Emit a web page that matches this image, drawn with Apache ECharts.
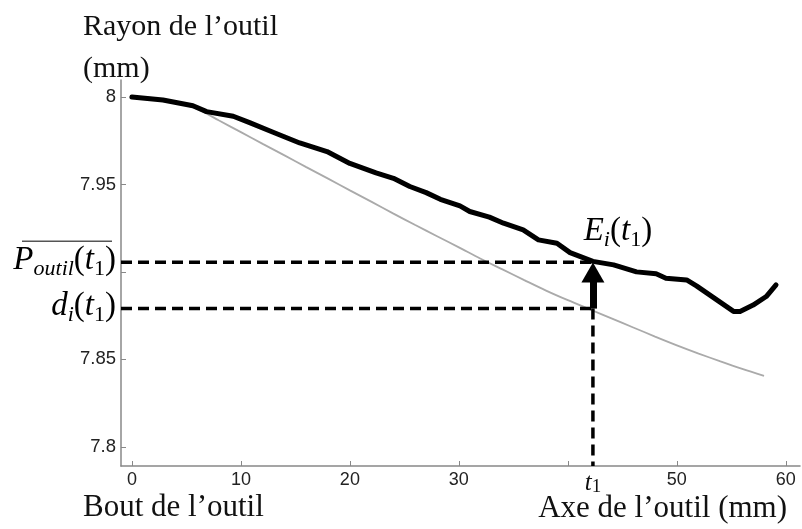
<!DOCTYPE html>
<html>
<head>
<meta charset="utf-8">
<script src="https://cdn.jsdelivr.net/npm/echarts@6/dist/echarts.min.js"></script>
<style>html,body{margin:0;padding:0;background:#fff}#c{width:802px;height:529px}</style>
</head>
<body>
<div id="c"></div>
<script>
// Measured tool profile (black, thick)
const tMeasured = [0, 2.85, 5.6, 6.85, 9.3, 10.8, 12.9, 15.4, 17.9, 20, 22.4, 24.0, 25.5, 27.0, 28.3, 30.1, 31.0, 32.8, 34.1, 35.9, 37.3, 39.0, 40.2, 42.3, 44.2, 46.3, 48.1, 49.0, 50.9, 51.8, 55.2, 55.8, 57.0, 58.2, 59.1];
const rMeasured = [8.0, 7.9983, 7.995, 7.9916, 7.989, 7.9853, 7.980, 7.9737, 7.9688, 7.962, 7.9566, 7.9535, 7.9488, 7.9453, 7.9415, 7.9377, 7.9345, 7.9313, 7.9278, 7.924, 7.9183, 7.9164, 7.911, 7.906, 7.904, 7.900, 7.8989, 7.8964, 7.8954, 7.892, 7.8774, 7.8774, 7.881, 7.8859, 7.8926];
// Reference profile (grey, thin)
const tRef = [0, 2, 4, 6, 8, 10, 12, 14, 16, 18, 20, 22, 24, 26, 28, 30, 32, 34, 36, 38, 40, 42, 44, 46, 48, 50, 52, 54, 56, 58];
const rRef = [8.0, 7.9993, 7.9968, 7.9932, 7.9865, 7.9799, 7.9732, 7.9666, 7.9599, 7.9533, 7.9466, 7.9400, 7.9333, 7.9268, 7.9204, 7.9140, 7.9075, 7.9014, 7.8953, 7.8893, 7.8838, 7.8786, 7.8734, 7.8682, 7.8630, 7.8580, 7.8533, 7.8488, 7.8445, 7.8405];
// Annotation values
const t1 = 42.3;
const P_t1 = 7.9055;
const d_t1 = 7.879;
// Axis ticks / labels
const xTicks = [0, 10, 20, 30, 40, 50, 60];
const xLabels = [0, 10, 20, 30, t1, 50, 60];
const yTicks = [7.8, 7.85, 7.9, 7.95, 8];
const yLabels = [7.8, 7.85, 7.95, 8];

const xMin = -1, xMax = 61.3, yMin = 7.789, yMax = 8.0097;
const serif = '"Liberation Serif", "DejaVu Serif", serif';
const sans = '"Liberation Sans", Arial, sans-serif';

const chart = echarts.init(document.getElementById('c'), null, {renderer: 'canvas'});
const zip = (a, b) => a.map((v, i) => [v, b[i]]);

const option = {
  animation: false,
  backgroundColor: '#fff',
  grid: {left: 121, top: 80, right: 2, bottom: 63, containLabel: false},
  xAxis: {
    type: 'value', min: xMin, max: xMax,
    splitLine: {show: false},
    axisLine: {onZero: false, lineStyle: {color: '#888', width: 1.5}},
    axisTick: {customValues: xTicks, inside: true, length: 5, lineStyle: {color: '#888'}},
    axisLabel: {
      customValues: xLabels, margin: 5, color: '#222', fontFamily: sans, fontSize: 18,
      formatter: v => (Math.abs(v - t1) < 1e-6 ? '{t|t}{s|1}' : String(v)),
      rich: {
        t: {fontFamily: serif, fontStyle: 'italic', fontSize: 25, color: '#111', lineHeight: 26, verticalAlign: 'top'},
        s: {fontFamily: serif, fontSize: 19, color: '#111', lineHeight: 20, verticalAlign: 'bottom', padding: [16, 0, 0, 0]}
      }
    }
  },
  yAxis: {
    type: 'value', min: yMin, max: yMax,
    splitLine: {show: false},
    axisLine: {onZero: false, lineStyle: {color: '#888', width: 1.5}},
    axisTick: {customValues: yTicks, inside: true, length: 5, lineStyle: {color: '#888'}},
    axisLabel: {customValues: yLabels, margin: 5, color: '#222', fontFamily: sans, fontSize: 18.5,
      formatter: v => String(+v.toFixed(2))}
  },
  series: [
    {type: 'line', data: zip(tRef, rRef), smooth: 0.3, symbol: 'none',
     lineStyle: {color: '#aaa', width: 1.8}, z: 2},
    {type: 'line', data: zip(tMeasured, rMeasured), smooth: false, symbol: 'none',
     lineStyle: {color: '#000', width: 5, join: 'round', cap: 'round'}, z: 3},
    {type: 'line', data: [[xMin, P_t1], [t1, P_t1]], symbol: 'none',
     lineStyle: {color: '#000', width: 3.5, type: [11, 6]}, z: 4},
    {type: 'line', data: [[xMin, d_t1], [t1, d_t1]], symbol: 'none',
     lineStyle: {color: '#000', width: 3.5, type: [11, 6]}, z: 4},
    {type: 'line', data: [[t1, d_t1], [t1, yMin]], symbol: 'none',
     lineStyle: {color: '#000', width: 3.5, type: [11, 6]}, z: 4,
     markLine: {
       silent: true, symbol: ['none', 'triangle'], symbolSize: [23, 20],
       label: {show: false},
       lineStyle: {color: '#000', width: 7, type: 'solid', cap: 'butt'},
       data: [[{coord: [t1, d_t1]}, {coord: [t1, P_t1 - 0.0058]}]]
     }}
  ]
};
chart.setOption(option);

const pxP = chart.convertToPixel({gridIndex: 0}, [t1, P_t1]);
const pxD = chart.convertToPixel({gridIndex: 0}, [t1, d_t1]);

const mathRich = {
  i: {fontFamily: serif, fontStyle: 'italic', fontSize: 33, color: '#111', lineHeight: 40, verticalAlign: 'middle'},
  n: {fontFamily: serif, fontSize: 33, color: '#111', lineHeight: 40, verticalAlign: 'middle'},
  si: {fontFamily: serif, fontStyle: 'italic', fontSize: 22, color: '#111', lineHeight: 19, verticalAlign: 'bottom'},
  sn: {fontFamily: serif, fontSize: 22, color: '#111', lineHeight: 19, verticalAlign: 'bottom'}
};

chart.setOption({
  graphic: [
    {type: 'text', left: 83, top: 6, style: {text: 'Rayon de l’outil\n(mm)', font: '30px ' + serif, fill: '#111', lineHeight: 42}},
    {type: 'text', left: 83, top: 492, style: {text: 'Bout de l’outil', font: '31px ' + serif, fill: '#111'}},
    {type: 'text', right: 15, top: 493, style: {text: 'Axe de l’outil (mm)', font: '31px ' + serif, fill: '#111'}},
    {type: 'text', x: 116, y: pxP[1] - 2, style: {text: '{i|P}{si|outil}{n|(}{i|t}{sn|1}{n|)}', rich: mathRich, align: 'right', verticalAlign: 'middle'}},
    {type: 'line', shape: {x1: 22, y1: pxP[1] - 21, x2: 112, y2: pxP[1] - 21}, style: {stroke: '#555', lineWidth: 1.5}},
    {type: 'text', x: 116, y: pxD[1] - 2, style: {text: '{i|d}{si|i}{n|(}{i|t}{sn|1}{n|)}', rich: mathRich, align: 'right', verticalAlign: 'middle'}},
    {type: 'text', x: pxP[0] + 25, y: pxP[1] - 31, style: {text: '{i|E}{si|i}{n|(}{i|t}{sn|1}{n|)}', rich: mathRich, align: 'center', verticalAlign: 'middle'}}
  ]
});
</script>
</body>
</html>
